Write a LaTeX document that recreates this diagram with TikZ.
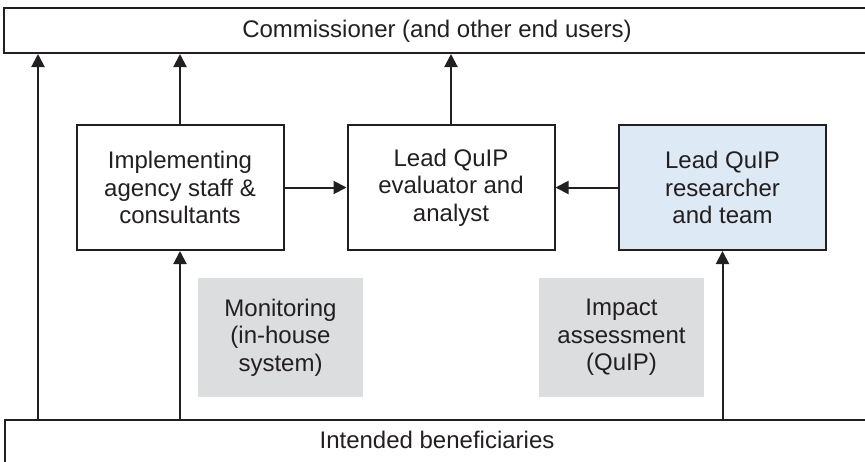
\documentclass[tikz,border=0pt]{standalone}
\usepackage{fontspec}
\setmainfont{Liberation Sans}
\usetikzlibrary{arrows.meta}
\definecolor{ink}{HTML}{231F20}
\definecolor{boxblue}{HTML}{DDE9F4}
\definecolor{boxgrey}{HTML}{DCDDDF}
\begin{document}
\begin{tikzpicture}[x=1pt,y=-1pt,
  txt/.style={font=\fontsize{24}{27.5}\selectfont, text=ink, align=center},
  wbox/.style={draw=ink, line width=2pt, rectangle, inner sep=0pt},
  mbox/.style={wbox, txt, minimum width=207pt, minimum height=125pt},
  gbox/.style={txt, fill=boxgrey, rectangle, inner sep=0pt, minimum width=165pt, minimum height=119pt},
  arr/.style={draw=ink, line width=2pt, -{Triangle[length=13pt,width=13pt]}}]
\useasboundingbox (0,0) rectangle (865,461);
% top and bottom bands
\node[wbox, minimum width=866pt, minimum height=45pt] (comm) at (437,30.5) {};
\node[txt] (commtxt) at (437,31) {Commissioner (and other end users)};
\node[wbox, minimum width=866pt, minimum height=60pt] (ben) at (438,450) {};
\node[txt] (bentxt) at (437,440) {Intended beneficiaries};
% main boxes
\node[mbox] (impl) at (180,187.5) {Implementing\\agency staff \&\\consultants};
\node[mbox] (eval) at (451,187.5) {Lead QuIP\\evaluator and\\analyst};
\node[mbox, fill=boxblue] (res) at (722.5,187.5) {Lead QuIP\\researcher\\and team};
% grey boxes
\node[gbox] (mon) at (280.5,337.5) {Monitoring\\(in-house\\system)};
\node[gbox] (imp) at (621.5,337.5) {Impact\\assessment\\(QuIP)};
% connectors
\coordinate (lx) at (38,300);
\draw[arr] (lx |- ben.north) -- (lx |- comm.south);
\draw[arr] (impl.north) -- (impl.north |- comm.south);
\draw[arr] (eval.north) -- (eval.north |- comm.south);
\draw[arr] (impl.east) -- (eval.west);
\draw[arr] (res.west) -- (eval.east);
\draw[arr] (impl.south |- ben.north) -- (impl.south);
\draw[arr] (res.south |- ben.north) -- (res.south);
\end{tikzpicture}
\end{document}
